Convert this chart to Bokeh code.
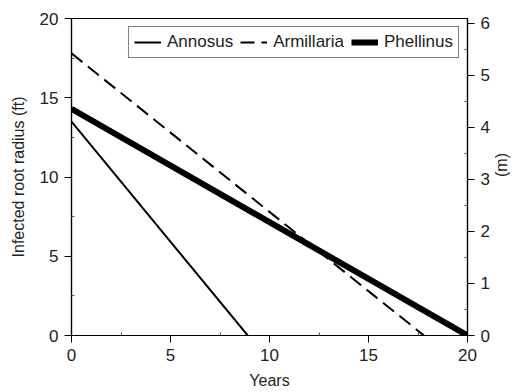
import math
from bokeh.plotting import figure
from bokeh.models import Range1d, LinearAxis, Legend, LegendItem, FixedTicker
from bokeh.embed import file_html
from bokeh.resources import INLINE

years_annosus = [0, 8.9]
radius_annosus = [13.5, 0]
years_armillaria = [0, 17.8]
radius_armillaria = [17.8, 0]
years_phellinus = [0, 20]
radius_phellinus = [14.3, 0]

FONT = "Liberation Sans"

p = figure(width=521, height=392, output_backend="svg", toolbar_location=None,
           x_range=Range1d(0, 20), y_range=Range1d(0, 20),
           min_border_left=71, min_border_right=52, min_border_top=18, min_border_bottom=57)
p.xgrid.visible = False
p.ygrid.visible = False
p.outline_line_color = "black"
p.outline_line_width = 1.2
p.background_fill_color = "white"
p.border_fill_color = "white"

r1 = p.line(years_annosus, radius_annosus, line_color="black", line_width=2)
r2 = p.line(years_armillaria, radius_armillaria, line_color="black", line_width=2, line_dash="14 7")
r3 = p.line(years_phellinus, radius_phellinus, line_color="black", line_width=6)

p.extra_y_ranges = {"m": Range1d(0, 20 * 0.3048)}
ax_r = LinearAxis(y_range_name="m", axis_label="(m)")
p.add_layout(ax_r, "right")

p.xaxis.axis_label = "Years"
p.yaxis[0].axis_label = "Infected root radius (ft)"
p.xaxis.ticker = FixedTicker(ticks=[0, 5, 10, 15, 20], minor_ticks=[2.5, 7.5, 12.5, 17.5])
p.yaxis[0].ticker = FixedTicker(ticks=[0, 5, 10, 15, 20], minor_ticks=[2.5, 7.5, 12.5, 17.5])
ax_r.ticker = FixedTicker(ticks=[0, 1, 2, 3, 4, 5, 6], minor_ticks=[0.5, 1.5, 2.5, 3.5, 4.5, 5.5])

for ax in [p.xaxis[0], p.yaxis[0], ax_r]:
    ax.major_label_text_font = FONT
    ax.major_label_text_font_size = "17px"
    ax.major_label_text_color = "#222222"
    ax.axis_label_text_font = FONT
    ax.axis_label_text_font_size = "16px"
    ax.axis_label_text_font_style = "normal"
    ax.axis_label_text_color = "#222222"
    ax.axis_line_color = "black"
    ax.axis_line_width = 1.2
    ax.major_tick_out = 7
    ax.major_tick_in = 0
    ax.minor_tick_out = 0
    ax.minor_tick_in = 3
    ax.major_tick_line_color = "black"
    ax.minor_tick_line_color = "#555555"
    ax.major_label_standoff = 6

p.xaxis.axis_label_standoff = 8
p.yaxis[0].axis_label_standoff = 10
ax_r.axis_label_standoff = 9
ax_r.axis_label_orientation = math.pi / 2

legend = Legend(items=[LegendItem(label="Annosus", renderers=[r1]),
                       LegendItem(label="Armillaria", renderers=[r2]),
                       LegendItem(label="Phellinus", renderers=[r3])],
                orientation="horizontal", location="top_right")
legend.label_text_font = FONT
legend.label_text_font_size = "17px"
legend.label_text_color = "#222222"
legend.border_line_color = "black"
legend.border_line_width = 1.2
legend.glyph_width = 27
legend.spacing = 7
legend.padding = 5
legend.margin = 8
legend.label_standoff = 6
legend.background_fill_alpha = 1
p.add_layout(legend, "center")

open("out.html", "w").write(file_html(p, INLINE))
